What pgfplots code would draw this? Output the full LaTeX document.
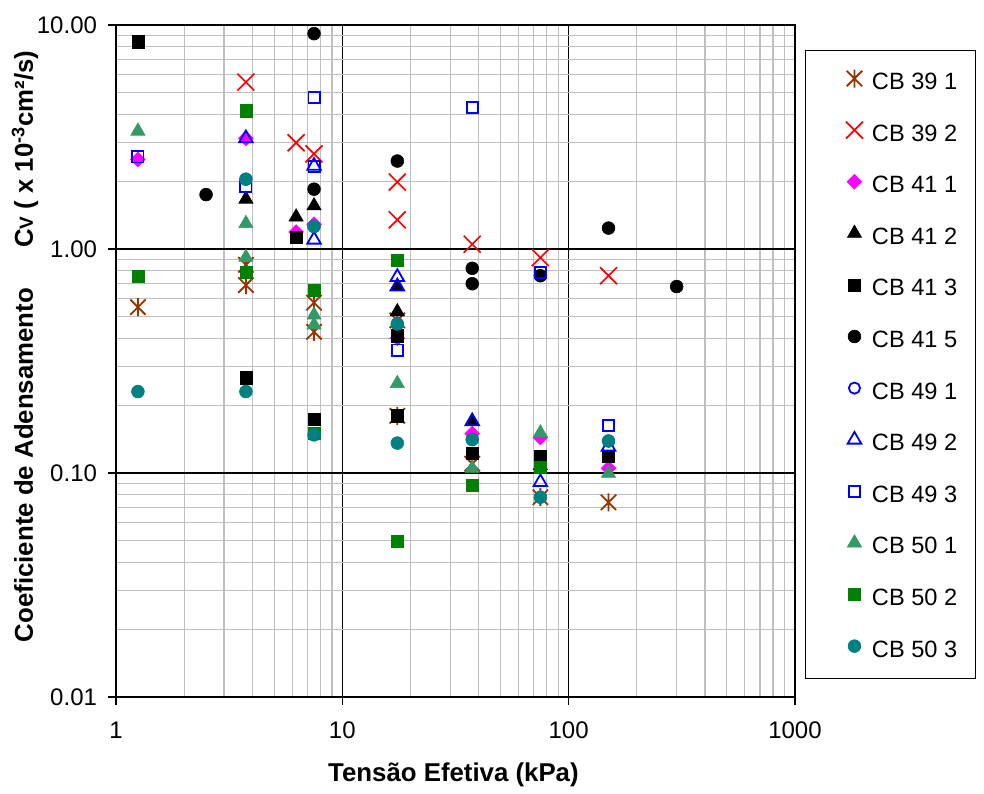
\documentclass[border=0pt]{standalone}
\usepackage{fontspec}
\setmainfont{Liberation Sans}
\usepackage{pgfplots}
\pgfplotsset{compat=1.18}
\definecolor{cbrown}{HTML}{993300}
\definecolor{csea}{HTML}{339966}
\definecolor{cgreen}{HTML}{008000}
\definecolor{cteal}{HTML}{008080}
\definecolor{cmag}{HTML}{FF00FF}
\definecolor{cred}{HTML}{FF0000}
\definecolor{cblue}{HTML}{0000FF}
\pgfdeclareplotmark{xast}{%
  \pgfpathmoveto{\pgfqpoint{0pt}{\pgfplotmarksize}}%
  \pgfpathlineto{\pgfqpoint{0pt}{-\pgfplotmarksize}}%
  \pgfpathmoveto{\pgfqpoint{-0.85\pgfplotmarksize}{0.85\pgfplotmarksize}}%
  \pgfpathlineto{\pgfqpoint{0.85\pgfplotmarksize}{-0.85\pgfplotmarksize}}%
  \pgfpathmoveto{\pgfqpoint{-0.85\pgfplotmarksize}{-0.85\pgfplotmarksize}}%
  \pgfpathlineto{\pgfqpoint{0.85\pgfplotmarksize}{0.85\pgfplotmarksize}}%
  \pgfusepathqstroke}
\begin{document}
\begin{tikzpicture}
\useasboundingbox (-58pt,-48pt) rectangle (434pt,348.5pt);
\begin{axis}[
  at={(0pt,0pt)}, anchor=south west, scale only axis,
  width=339.5pt, height=336pt,
  xmode=log, ymode=log, xmin=1, xmax=1000, ymin=0.01, ymax=10,
  xtick={1,10,100,1000}, xticklabels={1,10,100,1000},
  ytick={0.01,0.1,1,10}, yticklabels={0.01,0.10,1.00,10.00},
  minor xtick={2,3,4,5,6,7,8,9,20,30,40,50,60,70,80,90,200,300,400,500,600,700,800,900},
  minor ytick={0.02,0.03,0.04,0.05,0.06,0.07,0.08,0.09,0.2,0.3,0.4,0.5,0.6,0.7,0.8,0.9,2,3,4,5,6,7,8,9},
  grid=both,
  major grid style={black, line width=0.6pt},
  minor grid style={black!25, line width=0.6pt},
  axis line style={black, line width=1pt},
  xtick pos=bottom, ytick pos=left, tick align=outside,
  major tick length=4pt, minor tick length=0pt,
  major tick style={black, line width=0.6pt},
  minor tick style={draw=none},
  tick label style={font=\fontsize{12}{14}\selectfont},
  xticklabel style={yshift=-5pt},
  yticklabel style={xshift=-2pt},
  every axis x label/.style={at={(axis description cs:0.497,0)}, yshift=-39pt, anchor=center},
  every axis y label/.style={at={(axis description cs:0,0.522)}, xshift=-45.5pt, rotate=90, anchor=center},
  xlabel={\fontsize{12.9}{15}\selectfont\bfseries Tensão Efetiva (kPa)},
  ylabel={\fontsize{12.9}{15}\selectfont\bfseries Coeficiente de Adensamento\hspace{20pt}C{\fontsize{9.5}{11}\selectfont V} ( x 10\textsuperscript{-3}cm²/s)},
  legend style={at={(rel axis cs:1.0147,0.9628)}, anchor=north west, draw=black, line width=0.5pt,
    inner xsep=4.5pt, inner ysep=7.5pt, row sep=10.8pt, column sep=0pt,
    font=\fontsize{11.8}{14}\selectfont,
    nodes={inner xsep=4.5pt, inner ysep=0pt, text height=9pt, text depth=3pt}},
  legend cell align=left,
  legend image code/.code={\path[draw=none,fill=none] (-20pt,-3pt) rectangle (4pt,9pt); \draw[#1] plot coordinates {(0pt,2.5pt)};},
]
% CB 39 1
\addplot[only marks, mark=xast, mark size=4.5pt, color=cbrown, mark options={line width=0.9pt}] coordinates {
(1.25,0.55) (3.75,0.85) (3.75,0.69) (7.5,0.576) (7.5,0.427) (17.5,0.48) (17.5,0.18) (37.5,0.11) (75,0.078) (150,0.074)};
\addlegendentry{CB 39 1}
% CB 39 2
\addplot[only marks, mark=x, mark size=6pt, color=cred, mark options={line width=0.85pt}] coordinates {
(3.75,5.56) (6.25,2.98) (7.5,2.66) (17.5,1.99) (17.5,1.35) (37.5,1.05) (75,0.915) (150,0.76)};
\addlegendentry{CB 39 2}
% CB 41 1
\addplot[only marks, mark=square*, mark size=2.6pt, color=cmag, mark options={rotate=45, line width=0.3pt}] coordinates {
(1.25,2.51) (3.75,3.12) (6.25,1.19) (7.5,1.29) (17.5,0.40) (37.5,0.15) (75,0.144) (150,0.105)};
\addlegendentry{CB 41 1}
% CB 41 2
\addplot[only marks, mark=triangle*, mark size=4.1pt, color=black, mark options={line width=0.3pt}] coordinates {
(3.75,1.67) (6.25,1.39) (7.5,1.56) (17.5,0.68) (17.5,0.525) (37.5,0.17) (75,0.108)};
\addlegendentry{CB 41 2}
% CB 41 3
\addplot[only marks, mark=square*, mark size=3.05pt, color=black, mark options={line width=0.3pt}] coordinates {
(1.25,8.42) (3.75,0.266) (6.25,1.13) (7.5,0.174) (17.5,0.41) (17.5,0.18) (37.5,0.122) (75,0.119) (150,0.119)};
\addlegendentry{CB 41 3}
% CB 41 5
\addplot[only marks, mark=*, mark size=3.2pt, color=black, mark options={line width=0.3pt}] coordinates {
(2.5,1.75) (7.5,9.15) (7.5,1.85) (17.5,2.47) (37.5,0.82) (37.5,0.70) (75,0.76) (150,1.24) (300,0.68)};
\addlegendentry{CB 41 5}
% CB 49 1
\addplot[only marks, mark=o, mark size=2.8pt, color=cblue, mark options={line width=0.9pt}] coordinates {
(3.75,2.05) (7.5,1.26) (17.5,0.463) (37.5,0.141) (150,0.139)};
\addlegendentry{CB 49 1}
% CB 49 2
\addplot[only marks, mark=triangle, mark size=3.9pt, color=cblue, mark options={line width=0.9pt}] coordinates {
(3.75,3.12) (7.5,2.35) (7.5,1.10) (17.5,0.75) (17.5,0.68) (37.5,0.17) (75,0.091) (150,0.131)};
\addlegendentry{CB 49 2}
% CB 49 3
\addplot[only marks, mark=square, mark size=2.8pt, color=cblue, mark options={line width=0.9pt}] coordinates {
(1.25,2.58) (3.75,1.90) (7.5,4.76) (7.5,2.33) (17.5,0.354) (37.5,4.29) (75,0.787) (150,0.163)};
\addlegendentry{CB 49 3}
% CB 50 1
\addplot[only marks, mark=triangle*, mark size=4.1pt, color=csea, mark options={line width=0.3pt}] coordinates {
(1.25,3.36) (3.75,1.30) (3.75,0.918) (7.5,0.507) (7.5,0.458) (17.5,0.251) (37.5,0.105) (75,0.151) (150,0.0997)};
\addlegendentry{CB 50 1}
% CB 50 2
\addplot[only marks, mark=square*, mark size=3.05pt, color=cgreen, mark options={line width=0.3pt}] coordinates {
(1.25,0.753) (3.75,4.14) (3.75,0.784) (7.5,0.656) (7.5,0.151) (17.5,0.893) (17.5,0.0497) (37.5,0.088) (75,0.106)};
\addlegendentry{CB 50 2}
% CB 50 3
\addplot[only marks, mark=*, mark size=3.2pt, color=cteal, mark options={line width=0.3pt}] coordinates {
(1.25,0.231) (3.75,2.05) (3.75,0.231) (7.5,1.26) (7.5,0.148) (17.5,0.463) (17.5,0.136) (37.5,0.141) (75,0.078) (150,0.139)};
\addlegendentry{CB 50 3}
\end{axis}
\end{tikzpicture}
\end{document}
